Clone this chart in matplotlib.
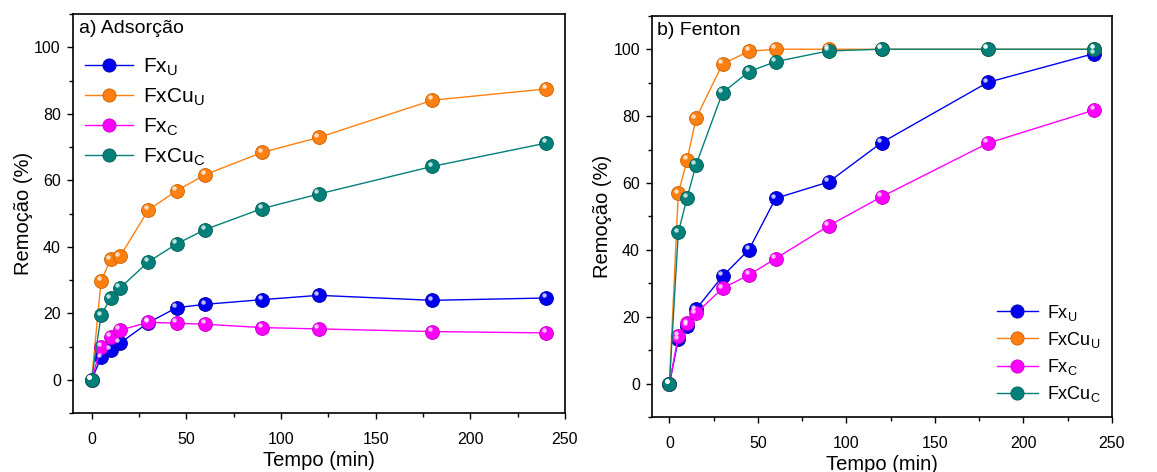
import matplotlib
matplotlib.use("Agg")
import matplotlib.pyplot as plt
from matplotlib.ticker import MultipleLocator
from matplotlib.transforms import offset_copy

plt.rcParams['font.family'] = ['Liberation Sans', 'DejaVu Sans']
plt.rcParams['mathtext.fontset'] = 'custom'
plt.rcParams['mathtext.rm'] = 'Liberation Sans'

#-----------------------------#
#            Data
#-----------------------------#

tempo = [0, 5, 10, 15, 30, 45, 60, 90, 120, 180, 240]

# a) Adsorcao
ads_fxu = [0, 6.7, 8.9, 11.0, 17.2, 21.7, 22.7, 24.1, 25.4, 23.9, 24.6]
ads_fxcuu = [0, 29.7, 36.2, 37.1, 51.1, 56.9, 61.7, 68.4, 72.9, 84.1, 87.5]
ads_fxc = [0, 9.9, 13.0, 14.9, 17.3, 17.0, 16.7, 15.7, 15.3, 14.5, 14.1]
ads_fxcuc = [0, 19.4, 24.5, 27.6, 35.5, 40.9, 45.2, 51.5, 55.9, 64.2, 71.2]

# b) Fenton
fen_fxu = [0, 13.2, 17.2, 22.2, 32.1, 40.1, 55.4, 60.3, 72.1, 90.1, 98.7]
fen_fxcuu = [0, 56.9, 66.9, 79.3, 95.6, 99.4, 100, 100, 100, 100, 100]
fen_fxc = [0, 14.2, 18.0, 21.0, 28.5, 32.5, 37.4, 47.2, 55.9, 71.9, 81.8]
fen_fxcuc = [0, 45.2, 55.6, 65.4, 87.0, 93.3, 96.3, 99.5, 100, 100, 100]

labels = ['Fx$_\\mathregular{U}$', 'FxCu$_\\mathregular{U}$',
          'Fx$_\\mathregular{C}$', 'FxCu$_\\mathregular{C}$']
colors = ['#0000F0', '#FF8010', '#FF00FF', '#008078']
edges = ['#0000A8', '#C86000', '#C000C0', '#005E58']


def draw_panel(ax, series, title, legend_loc, legend_anchor, leg_fs):
    fig = ax.figure
    for y, lab, c, ec in zip(series, labels, colors, edges):
        ax.plot(tempo, y, '-', color=c, lw=1.0, marker='o', ms=10,
                mfc=c, mec=ec, mew=0.6, label=lab, zorder=3)
        # small highlight to mimic the shaded spheres
        tr = offset_copy(ax.transData, fig=fig, x=-1.8, y=2.0, units='points')
        ax.plot(tempo, y, 'o', ms=3.2, color='white', alpha=0.75,
                mec='none', transform=tr, zorder=4)
    ax.set_xlim(-10, 250)
    ax.set_ylim(-10, 110)
    ax.xaxis.set_major_locator(MultipleLocator(50))
    ax.xaxis.set_minor_locator(MultipleLocator(25))
    ax.yaxis.set_major_locator(MultipleLocator(20))
    ax.yaxis.set_minor_locator(MultipleLocator(10))
    ax.tick_params(which='both', direction='out', labelsize=11.5,
                   top=False, right=False)
    ax.tick_params(axis='x', which='major', pad=9)
    ax.tick_params(axis='y', which='major', pad=4)
    ax.tick_params(which='major', length=4.5, width=1)
    ax.tick_params(which='minor', length=3, width=1)
    for s in ax.spines.values():
        s.set_linewidth(1.2)
    ax.set_xlabel('Tempo (min)', fontsize=14.5, labelpad=3)
    ax.set_ylabel('Remoção (%)', fontsize=14.5, labelpad=1)
    ax.text(0.012, 0.985, title, transform=ax.transAxes, fontsize=14,
            va='top', ha='left')
    ax.legend(loc=legend_loc, bbox_to_anchor=legend_anchor, frameon=False,
              fontsize=leg_fs, handlelength=2.3, handletextpad=0.5,
              labelspacing=0.4, borderaxespad=0.2, markerscale=0.95)


fig = plt.figure(figsize=(11.57, 4.72), dpi=100)
ax1 = fig.add_axes([0.0628, 0.125, 0.4255, 0.845])
ax2 = fig.add_axes([0.5633, 0.1165, 0.3976, 0.850])

draw_panel(ax1, [ads_fxu, ads_fxcuu, ads_fxc, ads_fxcuc], 'a) Adsorção',
           'upper left', (0.0, 0.925), 15)
draw_panel(ax2, [fen_fxu, fen_fxcuu, fen_fxc, fen_fxcuc], 'b) Fenton',
           'lower right', (1.0, 0.005), 13)

fig.savefig('out.png', dpi=100)
